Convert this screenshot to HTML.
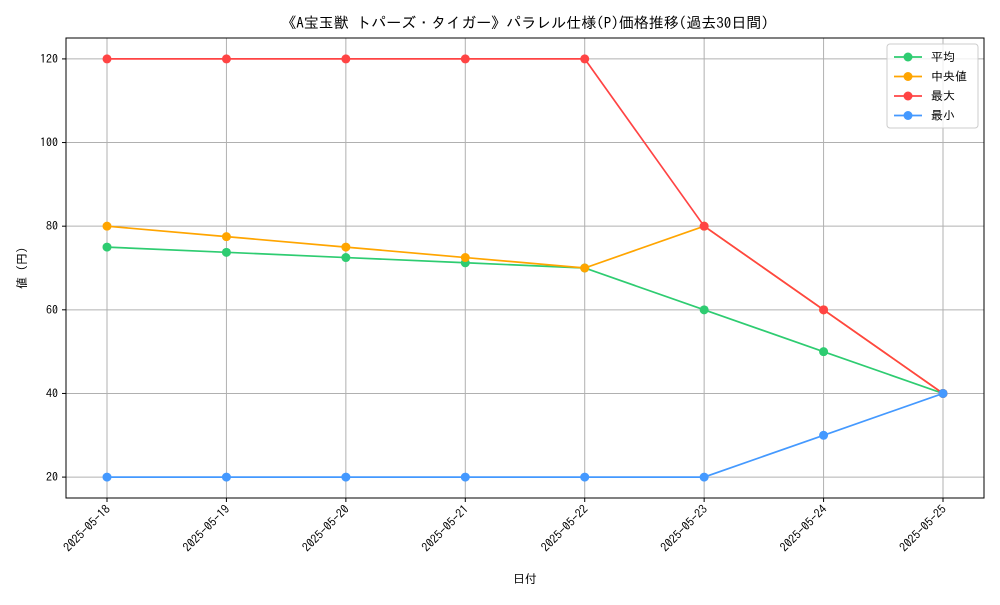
<!DOCTYPE html>
<html><head><meta charset="utf-8">
<style>
body{margin:0;background:#fff;}
svg text{font-family:"IPAGothic","Noto Sans CJK JP",sans-serif;fill:#000;}
</style></head>
<body>
<svg id="chart" width="1000" height="600" xmlns="http://www.w3.org/2000/svg">
<rect width="1000" height="600" fill="#fff"/>
<text x="525" y="28" font-size="15" text-anchor="middle">《A宝玉獣 トパーズ・タイガー》パラレル仕様(P)価格推移(過去30日間)</text>
<g id="grid"></g>
<g id="series"></g>
<rect x="66" y="38" width="918" height="460" fill="none" stroke="#000" stroke-width="1"/>
<g id="axes"></g>
<text x="525" y="583" font-size="12" text-anchor="middle">日付</text>
<text transform="translate(26,268) rotate(-90)" font-size="12" text-anchor="middle">値 (円)</text>
<g id="legend"></g>
</svg>
<script>
const categories=["2025-05-18","2025-05-19","2025-05-20","2025-05-21","2025-05-22","2025-05-23","2025-05-24","2025-05-25"];
const avgValues=[75,73.75,72.5,71.25,70,60,50,40];
const medianValues=[80,77.5,75,72.5,70,80,60,40];
const maxValues=[120,120,120,120,120,80,60,40];
const minValues=[20,20,20,20,20,20,30,40];
const yTicks=[20,40,60,80,100,120];
const seriesNames=["平均","中央値","最大","最小"];
const seriesColors=["#2ecc71","#ffa500","#ff4444","#4499ff"];
const NS="http://www.w3.org/2000/svg";
const X0=107,X1=943,YMIN=15,YMAX=125,PT=38,PB=498;
function xs(i){return X0+(X1-X0)*i/(categories.length-1);}
function ys(v){return PB-(v-YMIN)/(YMAX-YMIN)*(PB-PT);}
function mk(tag,attrs,parent){const e=document.createElementNS(NS,tag);for(const k in attrs)e.setAttribute(k,attrs[k]);parent.appendChild(e);return e;}
const grid=document.getElementById('grid'),axes=document.getElementById('axes'),ser=document.getElementById('series'),leg=document.getElementById('legend');
categories.forEach((c,i)=>{
  const x=xs(i);
  const g=mk('line',{x1:x,x2:x,y1:PT,y2:PB,stroke:'#b0b0b0','stroke-width':1},grid);
  
  
  const t=mk('line',{x1:x,x2:x,y1:PB,y2:PB+4,stroke:'#000'},axes);
  
  
  const l=mk('text',{transform:`translate(${x+4},${PB+12}) rotate(-45)`,'font-size':12,'text-anchor':'end'},axes);
  l.textContent=c;
  
  
});
yTicks.forEach(v=>{
  const y=ys(v);
  const g=mk('line',{x1:66,x2:984,y1:y,y2:y,stroke:'#b0b0b0','stroke-width':1},grid);
  
  
  const t=mk('line',{x1:62,x2:66,y1:y,y2:y,stroke:'#000'},axes);
  
  
  const l=mk('text',{x:58,y:y+4,'font-size':12,'text-anchor':'end'},axes);
  l.textContent=v;
  
  
});
const allSeries=[avgValues,medianValues,maxValues,minValues];
const keys=["avg","median","max","min"];
allSeries.forEach((vals,s)=>{
  const g=mk('g',{},ser);
  
  
  const p=mk('polyline',{points:vals.map((v,i)=>xs(i)+','+ys(v)).join(' '),fill:'none',stroke:seriesColors[s],'stroke-width':1.7},g);
  
  
  vals.forEach((v,i)=>{
    const c=mk('circle',{cx:xs(i),cy:ys(v),r:4.5,fill:seriesColors[s]},g);
    
    
  });
});
const lb=mk('rect',{x:887,y:44,width:91,height:84,rx:3,fill:'#fff','fill-opacity':0.8,stroke:'#ccc'},leg);


seriesNames.forEach((n,s)=>{
  const y=57+s*19.5;
  const g=mk('g',{},leg);
  
  
  mk('line',{x1:894,x2:922,y1:y,y2:y,stroke:seriesColors[s],'stroke-width':1.7},g);
  mk('circle',{cx:908,cy:y,r:4.5,fill:seriesColors[s]},g);
  const t=mk('text',{x:931,y:y+4,'font-size':12},g);
  t.textContent=(s===1?' ':'')+n;
});
</script>
</body></html>
